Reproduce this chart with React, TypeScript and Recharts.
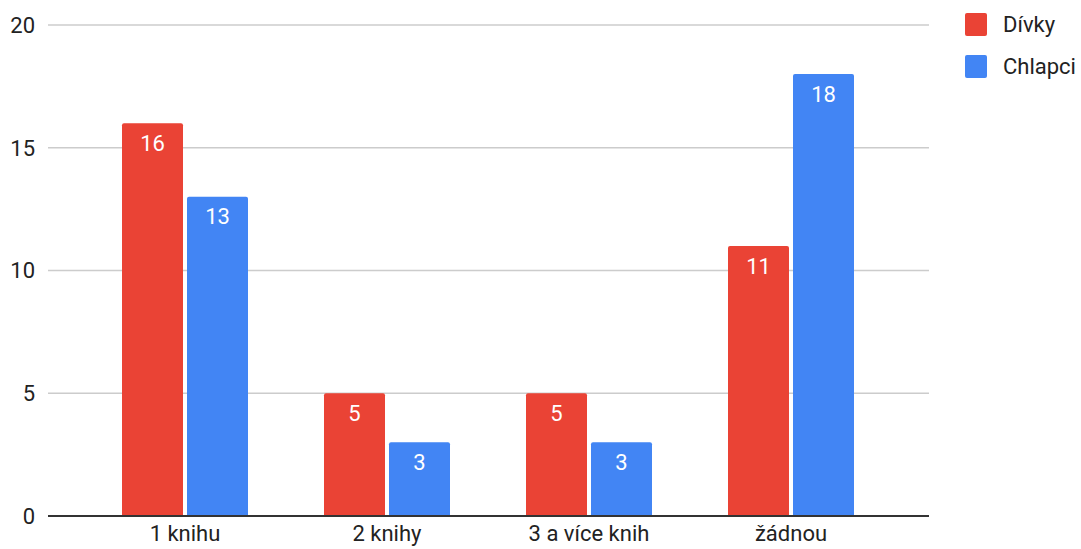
import {
  BarChart,
  Bar,
  XAxis,
  YAxis,
  CartesianGrid,
  LabelList,
} from "recharts";

const categories = ["1 knihu", "2 knihy", "3 a více knih", "žádnou"];
const divky = [16, 5, 5, 11];
const chlapci = [13, 3, 3, 18];
const yTicks = [0, 5, 10, 15, 20];

const series = [
  { key: "divky", name: "Dívky", color: "#ea4335" },
  { key: "chlapci", name: "Chlapci", color: "#4285f4" },
];

const data = categories.map((c, i) => ({
  kategorie: c,
  divky: divky[i],
  chlapci: chlapci[i],
}));

const font = "Roboto, Arial, sans-serif";

// legend sits in the right-hand strip, outside the plot area
const LegendBox = () => (
  <div
    style={{ position: "absolute", left: 965, top: 13, fontFamily: font }}
  >
    {series.map((s) => (
      <div
        key={s.key}
        style={{ display: "flex", alignItems: "center", height: 23, marginBottom: 19 }}
      >
        <div
          style={{
            width: 22,
            height: 23,
            background: s.color,
            borderRadius: 2,
            marginRight: 16,
          }}
        />
        <span style={{ fontSize: 22, color: "#222" }}>{s.name}</span>
      </div>
    ))}
  </div>
);

export default function App() {
  return (
    <div
      style={{
        position: "absolute",
        left: 0,
        top: 0,
        width: 1081,
        height: 549,
        background: "#fff",
      }}
    >
      <BarChart
        width={1081}
        height={549}
        data={data}
        margin={{ top: 25, right: 152, bottom: 3, left: 0 }}
        barSize={61}
        barGap={4}
      >
        <CartesianGrid vertical={false} stroke="#cccccc" strokeWidth={1.5} />
        <XAxis
          dataKey="kategorie"
          height={30}
          padding={{ left: 36, right: 37 }}
          axisLine={{ stroke: "#333", strokeWidth: 2 }}
          tickLine={false}
          tickSize={0}
          tickMargin={9}
          tick={{ fontSize: 22, fill: "#222", fontFamily: font }}
        />
        <YAxis
          width={48}
          domain={[0, 20]}
          ticks={yTicks}
          axisLine={false}
          tickLine={false}
          tickSize={0}
          tickMargin={13}
          tick={{ fontSize: 22, fill: "#222", fontFamily: font }}
        />
        {series.map((s) => (
          <Bar
            key={s.key}
            dataKey={s.key}
            name={s.name}
            fill={s.color}
            radius={[2, 2, 0, 0]}
            isAnimationActive={false}
          >
            <LabelList
              dataKey={s.key}
              position="insideTop"
              offset={12}
              fill="#fff"
              fontSize={22}
              fontFamily={font}
            />
          </Bar>
        ))}
      </BarChart>
      <LegendBox />
    </div>
  );
}
